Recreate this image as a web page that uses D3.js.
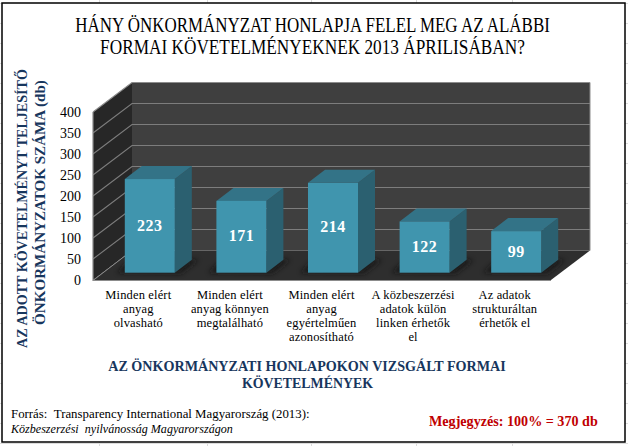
<!DOCTYPE html>
<html><head><meta charset="utf-8">
<script src="https://cdn.jsdelivr.net/npm/d3@7/dist/d3.min.js"></script>
<style>html,body{margin:0;padding:0;background:#fff}svg{display:block}text{font-family:"Liberation Serif",serif}</style>
</head><body><svg id="c" width="628" height="446"></svg>
<script>
const categories=[["Minden elért","anyag","olvasható"],["Minden elért","anyag könnyen","megtalálható"],["Minden elért","anyag","egyértelműen","azonosítható"],["A közbeszerzési","adatok külön","linken érhetők","el"],["Az adatok","strukturáltan","érhetők el"]];
const values=[223,171,214,122,99];
const yTicks=[0,50,100,150,200,250,300,350,400];
const titleLines=["HÁNY ÖNKORMÁNYZAT HONLAPJA FELEL MEG AZ ALÁBBI","FORMAI KÖVETELMÉNYEKNEK 2013 ÁPRILISÁBAN?"];
const yTitle=["AZ ADOTT KÖVETELMÉNYT TELJESÍTŐ","ÖNKORMÁNYZATOK SZÁMA (db)"];
const xTitle=["AZ ÖNKORMÁNYZATI HONLAPOKON VIZSGÁLT FORMAI","KÖVETELMÉNYEK"];
const sheetCols=[99,207,311,416,512];
const sheetRows=d3.range(3,446,20);
const svg=d3.select("#c");
const defs=svg.append("defs");
defs.append("filter").attr("id","blur").attr("x","-30%").attr("y","-60%").attr("width","160%").attr("height","220%").append("feGaussianBlur").attr("stdDeviation",2.5);
const y=d3.scaleLinear().domain([0,400]).range([280,112]);
const x=d3.scaleBand().domain(d3.range(5)).range([93,551]);
const dX=39,dY=-29.5;
const P=(pts)=>d3.line()(pts);
// place a text at (px,py), optionally rotated, squeezed horizontally to the wanted length
function fit(str,px,py,len,size,attrs={},rot=0){
 const t=svg.append("text").attr("font-size",size);
 Object.entries(attrs).forEach(([k,v])=>t.attr(k,v));
 t.text(str);
 const k=len/t.node().getComputedTextLength();
 t.attr("transform",`translate(${px},${py}) rotate(${rot}) scale(${k},1)`);
 return t;
}
sheetCols.forEach(c=>svg.append("line").attr("x1",c+.5).attr("x2",c+.5).attr("y1",0).attr("y2",446).attr("stroke","#dcdcdc"));
sheetRows.forEach(r=>svg.append("line").attr("x1",0).attr("x2",628).attr("y1",r+.5).attr("y2",r+.5).attr("stroke","#dcdcdc"));
svg.append("rect").attr("x",2).attr("y",3).attr("width",623).attr("height",439).attr("fill","#fff").attr("stroke","#000").attr("stroke-width",1.5);
const L=x.range()[0],R=x.range()[1];
svg.append("path").attr("d",P([[L+dX,y(400)+dY],[R+dX,y(400)+dY],[R+dX,y(0)+dY],[L+dX,y(0)+dY]])+"Z").attr("fill","#3f3f3f");
svg.append("path").attr("d",P([[L,y(400)],[L+dX,y(400)+dY],[L+dX,y(0)+dY],[L,y(0)]])+"Z").attr("fill","#272727");
svg.append("path").attr("d",P([[L,y(0)],[L+dX,y(0)+dY],[R+dX,y(0)+dY],[R,y(0)]])+"Z").attr("fill","#2e2e2e");
yTicks.forEach(t=>{
 if(t>0) svg.append("path").attr("fill","none").attr("stroke",t==400?"#8c8c8c":"#7d7d7d").attr("stroke-width",1.1).attr("d",P([[L,y(t)],[L+dX,y(t)+dY],[R+dX,y(t)+dY]]));
 svg.append("text").attr("x",81).attr("y",y(t)+4.7).attr("text-anchor","end").attr("font-size",14).text(t);
});
svg.append("path").attr("fill","none").attr("stroke","#8c8c8c").attr("stroke-width",1.2).attr("d",P([[L,y(400)],[L,y(0)+.5],[R,y(0)+.5]]));
svg.append("path").attr("fill","none").attr("stroke","#8c8c8c").attr("stroke-width",1).attr("d",P([[L,y(0)+.5],[L+dX,y(0)+dY]]));
svg.append("path").attr("stroke","#8c8c8c").attr("stroke-width",1).attr("d",P([[R+dX,y(400)+dY],[R+dX,y(0)+dY]]));
const bw=50,ox=11,oy=7.3,bx=17,by=-13;
values.forEach((v,i)=>{
 const x0=x(i)+x.bandwidth()/2-bw/2+ox, x1=x0+bw, yb=y(0)-oy, yt=y(v)-oy;
 svg.append("path").attr("d",P([[x0-8,yb],[x0+6,yb-13],[x1+24,yb-13],[x1+6,yb+1]])+"Z").attr("fill","#141414").attr("opacity",.75).attr("filter","url(#blur)");
 svg.append("path").attr("d",P([[x1,yt],[x1+bx,yt+by],[x1+bx,yb+by],[x1,yb]])+"Z").attr("fill","#2b6070");
 svg.append("path").attr("d",P([[x0,yt],[x0+bx,yt+by],[x1+bx,yt+by],[x1,yt]])+"Z").attr("fill","#337387");
 svg.append("rect").attr("x",x0).attr("y",yt).attr("width",bw).attr("height",yb-yt).attr("fill","#4095ae");
 svg.append("text").attr("x",(x0+x1)/2).attr("y",(yt+yb)/2+4.7).attr("text-anchor","middle").attr("fill","#fff").attr("font-weight","bold").attr("font-size",16).attr("letter-spacing",0.5).text(v);
 categories[i].forEach((s,j)=>svg.append("text").attr("x",x(i)+x.bandwidth()/2-0.5).attr("y",299+j*14).attr("text-anchor","middle").attr("font-size",12.5).attr("letter-spacing",0.15).text(s));
});
const mid={"text-anchor":"middle"}, navy={"text-anchor":"middle","font-weight":"bold","fill":"#17365d"};
fit(titleLines[0],312.5,32,475,20.5,mid);
fit(titleLines[1],312.5,53.5,425,20.5,mid);
fit(yTitle[0],27,208.5,279,14.5,navy,-90);
fit(yTitle[1],45,202.5,245,14.5,navy,-90);
fit(xTitle[0],307,370.5,398,15,navy);
fit(xTitle[1],307.5,387.5,131,15,navy);
fit("Forrás:\u00a0\u00a0Transparency International Magyarország (2013):",11,418,299,12.5);
fit("Közbeszerzési\u00a0\u00a0nyilvánosság Magyarországon",11,432.5,222,12.5,{"font-style":"italic"});
fit("Megjegyzés: 100% = 370 db",429,426,169,14,{"font-weight":"bold","fill":"#c00000"});
</script></body></html>
